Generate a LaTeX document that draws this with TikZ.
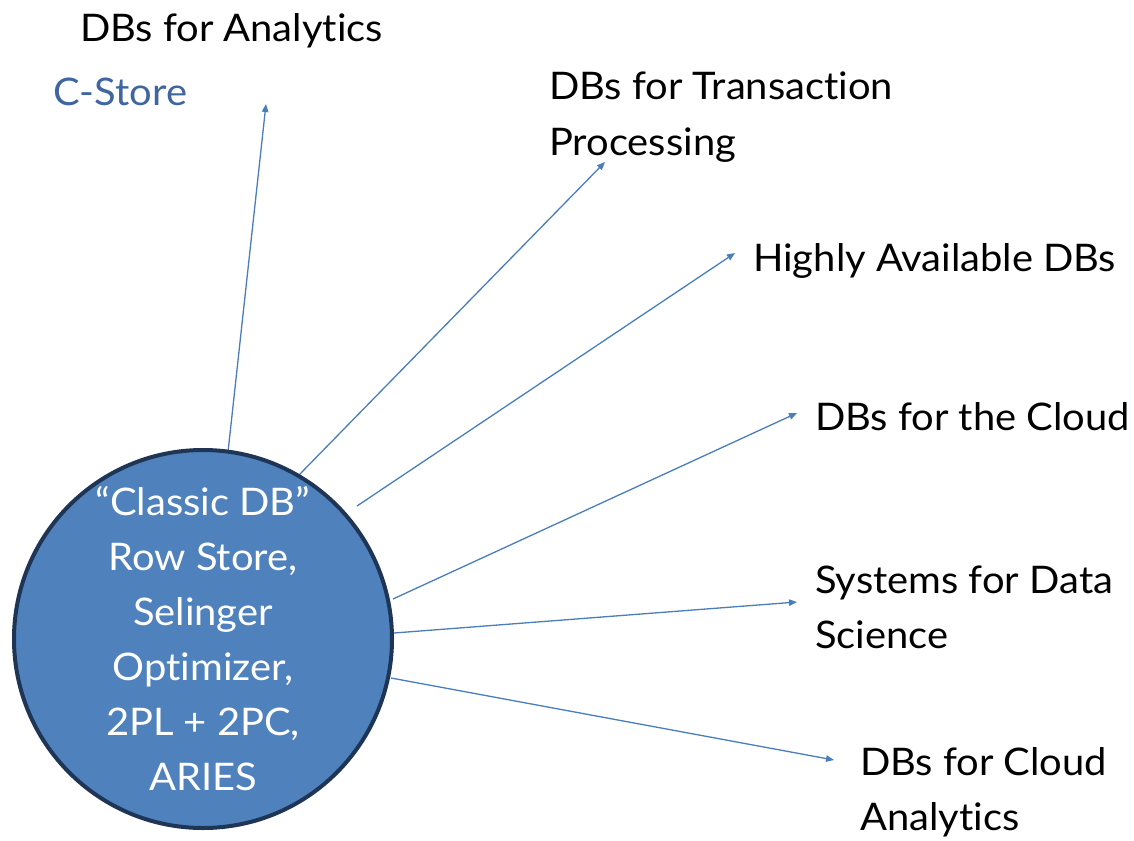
\documentclass[tikz,border=0pt]{standalone}
\usepackage{fontspec}
\setmainfont{Lato}[Ligatures=NoCommon, FakeStretch=1.05]
\usetikzlibrary{arrows.meta}
\definecolor{dbfill}{HTML}{4F81BD}
\definecolor{dbedge}{HTML}{1F3556}
\definecolor{linkblue}{HTML}{4A7EBB}
\definecolor{noteblue}{HTML}{3F66A0}
\begin{document}
\begin{tikzpicture}[x=1pt,y=-1pt,
  txt/.style={anchor=base west, inner sep=0pt, text=black,
              font=\fontsize{38}{55}\selectfont},
  arrowline/.style={draw=linkblue, line width=1.3pt,
              -{Triangle[length=8pt,width=6.5pt]}},
  core/.style={circle, fill=dbfill, draw=dbedge, line width=4pt,
              minimum size=378pt, inner sep=0pt, text=white, align=center,
              font=\fontsize{38}{55}\selectfont}]
\fill[white] (0,0) rectangle (1134,840);
\useasboundingbox (0,0) rectangle (1134,840);

% start and end points of the spokes
\coordinate (s1) at (228,452);
\coordinate (e1) at (266,104);
\coordinate (s2) at (298,476);
\coordinate (e2) at (605,162);
\coordinate (s3) at (357,506);
\coordinate (e3) at (735,253);
\coordinate (s4) at (393,599);
\coordinate (e4) at (797,413);
\coordinate (s5) at (394,633);
\coordinate (e5) at (797,602);
\coordinate (s6) at (391,678);
\coordinate (e6) at (834,760);

\foreach \i in {1,...,6} \draw[arrowline] (s\i) -- (e\i);

% the central system
\node[core] (classic) at (203,639)
  {“Classic DB”\\Row Store,\\Selinger\\Optimizer,\\2PL + 2PC,\\ARIES};

% destination labels
\node[txt] (analytics) at (80,42) {DBs for Analytics};
\node[txt, text=noteblue] (cstore) at (53,106) {C-Store};
\node[txt] (txnA) at (549,100) {DBs for Transaction};
\node[txt] (txnB) at (549,155) {Processing};
\node[txt] (ha) at (753,271) {Highly Available DBs};
\node[txt] (cloud) at (815,430) {DBs for the Cloud};
\node[txt] (dsA) at (815,593) {Systems for Data};
\node[txt] (dsB) at (815,648) {Science};
\node[txt] (caA) at (860,775) {DBs for Cloud};
\node[txt] (caB) at (860,830) {Analytics};
\end{tikzpicture}
\end{document}
